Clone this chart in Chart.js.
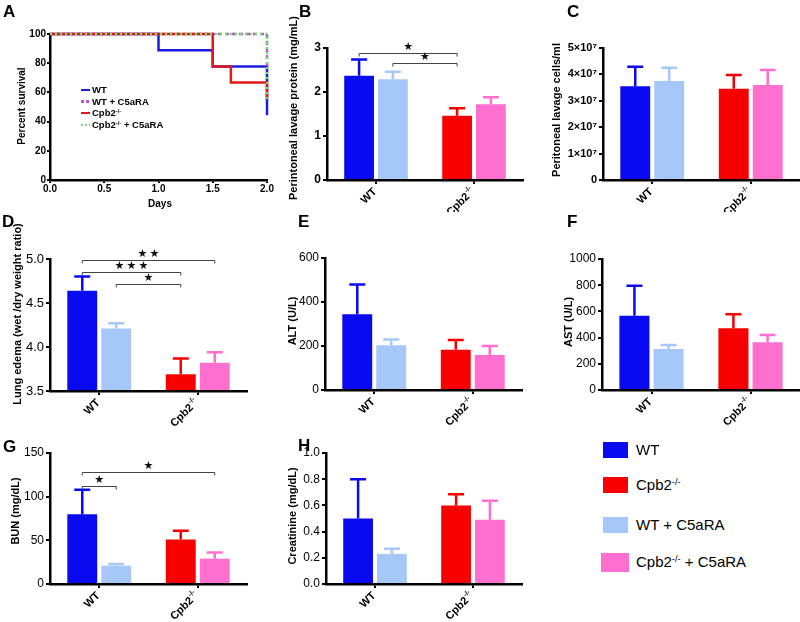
<!DOCTYPE html>
<html>
<head>
<meta charset="utf-8">
<script src="https://cdn.jsdelivr.net/npm/chart.js@4.4.0/dist/chart.umd.min.js"></script>
<style>
  body { margin: 0; width: 800px; height: 622px; background: #fff; position: relative; overflow: hidden;
         font-family: 'Liberation Sans', Arial, sans-serif; color: #000; }
  canvas { position: absolute; }
  .letter { position: absolute; font-weight: bold; font-size: 17px; line-height: 1; }
  .abs { position: absolute; white-space: nowrap; }
  sup { font-size: 62%; line-height: 0; vertical-align: 0.55em; }
</style>
</head>
<body>
<script>
// categories and series
const groups = ['WT', 'Cpb2-/-'];
const seriesNames = ['WT', 'Cpb2-/-', 'WT + C5aRA', 'Cpb2-/- + C5aRA'];

// panel A: survival (days / percent)
const daysWT = [0, 1, 1.5, 2];
const survWT = [100, 88.9, 77.8, 44.4];
const daysWTC5 = [0, 2];
const survWTC5 = [100, 77.8];
const daysKO = [0, 1.5, 1.667, 2];
const survKO = [100, 77.8, 66.7, 55.6];
const daysKOC5 = [0, 2];
const survKOC5 = [100, 55.6];
const dayTicks = [0, 0.5, 1, 1.5, 2];

// bar panels: [WT, Cpb2-/-] without C5aRA and with C5aRA, mean and SEM
const proteinMean = [2.37, 1.46], proteinSem = [0.37, 0.17];
const proteinC5Mean = [2.29, 1.72], proteinC5Sem = [0.17, 0.16];

const cellsMean = [3.55e7, 3.46e7], cellsSem = [0.74e7, 0.52e7];
const cellsC5Mean = [3.75e7, 3.6e7], cellsC5Sem = [0.5e7, 0.57e7];

const edemaMean = [4.64, 3.69], edemaSem = [0.16, 0.18];
const edemaC5Mean = [4.21, 3.82], edemaC5Sem = [0.06, 0.12];

const altMean = [344, 183], altSem = [136, 44];
const altC5Mean = [203, 159], altC5Sem = [27, 41];

const astMean = [567, 471], astSem = [229, 107];
const astC5Mean = [313, 364], astC5Sem = [30, 56];

const bunMean = [80, 51], bunSem = [28, 10];
const bunC5Mean = [21, 29], bunC5Sem = [2, 7];

const creatMean = [0.50, 0.60], creatSem = [0.30, 0.085];
const creatC5Mean = [0.23, 0.49], creatC5Sem = [0.04, 0.145];

const FONT = "'Liberation Sans', Arial, sans-serif";
const BLUE = '#0a0af0', RED = '#f70000', LIGHTBLUE = '#a6c8f8', PINK = '#ff6fcf';
const legendColors = [BLUE, RED, LIGHTBLUE, PINK];

Chart.defaults.font.family = FONT;
Chart.defaults.color = '#000';

function supHtml(s) { return s.replace('-/-', '<sup>-/-</sup>'); }

function makeCanvas(box) {
    const c = document.createElement('canvas');
    c.width = box[2];
    c.height = box[3];
    c.style.left = box[0] + 'px';
    c.style.top = box[1] + 'px';
    document.body.appendChild(c);
    return c;
}

function addDiv(cls, left, top, html, style) {
    const d = document.createElement('div');
    d.className = cls;
    d.style.left = left + 'px';
    d.style.top = top + 'px';
    if (style) d.style.cssText += style;
    d.innerHTML = html;
    document.body.appendChild(d);
    return d;
}

// chart area placed at exact page coords inside the canvas box
function layoutFor(box, area) {
    return {
        padding: { left: 0, top: area[1] - box[1], right: box[0] + box[2] - area[2], bottom: 0 },
        yWidth: area[0] - box[0],
        xHeight: box[1] + box[3] - area[3]
    };
}

function tickGrid(len) {
    return { drawOnChartArea: false, drawTicks: true, tickLength: len, lineWidth: 2, color: '#000' };
}
const axisBorder = { display: true, color: '#000', width: 2.5 };

function drawYTitle(chart, p) {
    const ctx = chart.ctx;
    ctx.save();
    ctx.translate(p.titleAt[0] - p.box[0], p.titleAt[1] - p.box[1]);
    ctx.rotate(-Math.PI / 2);
    ctx.font = 'bold ' + (p.titleSize || 11) + 'px ' + FONT;
    ctx.textAlign = 'center';
    ctx.textBaseline = 'middle';
    ctx.fillStyle = '#000';
    ctx.fillText(p.title, 0, 0);
    ctx.restore();
}

function drawGroupLabels(chart) {
    const ctx = chart.ctx, xs = chart.scales.x;
    groups.forEach((g, i) => {
        const k = g.indexOf('-/-');
        const main = k >= 0 ? g.slice(0, k) : g;
        const sup = k >= 0 ? g.slice(k) : '';
        const x = xs.getPixelForValue(i);
        ctx.save();
        ctx.translate(x - 1, xs.top + 10);
        ctx.rotate(-Math.PI / 4);
        ctx.textAlign = 'right';
        ctx.textBaseline = 'middle';
        ctx.fillStyle = '#000';
        let end = 0;
        if (sup) {
            ctx.font = 'bold 7px ' + FONT;
            ctx.fillText(sup, 0, -4);
            end = ctx.measureText(sup).width + 0.5;
        }
        ctx.font = 'bold 11px ' + FONT;
        ctx.fillText(main, -end, 0);
        ctx.restore();
    });
}

// bar index: 0 WT, 1 WT + C5aRA, 2 Cpb2-/-, 3 Cpb2-/- + C5aRA
function barX(chart, k) {
    return chart.getDatasetMeta(k % 2).data[Math.floor(k / 2)].x;
}

function barPlugin(p) {
    return {
        id: 'panel' + p.letter,
        afterDatasetsDraw(chart) {
            const ctx = chart.ctx, ys = chart.scales.y;
            // upper error bars
            chart.data.datasets.forEach((ds, di) => {
                chart.getDatasetMeta(di).data.forEach((bar, i) => {
                    const top = ys.getPixelForValue(ds.data[i] + ds.sem[i]);
                    ctx.save();
                    ctx.strokeStyle = ds.backgroundColor[i];
                    ctx.lineWidth = 2.5;
                    ctx.beginPath();
                    ctx.moveTo(bar.x, bar.y);
                    ctx.lineTo(bar.x, top);
                    ctx.moveTo(bar.x - 8, top);
                    ctx.lineTo(bar.x + 8, top);
                    ctx.stroke();
                    ctx.restore();
                });
            });
            // significance brackets
            (p.brackets || []).forEach(b => {
                const xa = barX(chart, b.from), xb = barX(chart, b.to);
                const y = Math.round(ys.getPixelForValue(b.at)) + 0.5;
                ctx.save();
                ctx.strokeStyle = '#444';
                ctx.lineWidth = 1;
                ctx.beginPath();
                ctx.moveTo(xa, y + 3);
                ctx.lineTo(xa, y);
                ctx.lineTo(xb, y);
                ctx.lineTo(xb, y + 3);
                ctx.stroke();
                ctx.fillStyle = '#111';
                ctx.font = '11px "DejaVu Sans"';
                ctx.textAlign = 'center';
                ctx.textBaseline = 'middle';
                const mid = (xa + xb) / 2;
                for (let s = 0; s < b.stars; s++) {
                    ctx.fillText('\u2605', mid + (s - (b.stars - 1) / 2) * 12, y - 6);
                }
                ctx.restore();
            });
        },
        afterDraw(chart) {
            drawYTitle(chart, p);
            drawGroupLabels(chart);
        }
    };
}

function barPanel(p) {
    const L = layoutFor(p.box, p.area);
    const dsOpts = { categoryPercentage: 0.69, barPercentage: 0.88, borderWidth: 0, base: p.min };
    new Chart(makeCanvas(p.box), {
        type: 'bar',
        data: {
            labels: groups,
            datasets: [
                Object.assign({ label: 'untreated', data: p.mean, sem: p.sem, backgroundColor: [BLUE, RED] }, dsOpts),
                Object.assign({ label: 'C5aRA', data: p.c5Mean, sem: p.c5Sem, backgroundColor: [LIGHTBLUE, PINK] }, dsOpts)
            ]
        },
        options: {
            responsive: false,
            animation: false,
            devicePixelRatio: 1,
            layout: { padding: L.padding },
            plugins: { legend: { display: false }, tooltip: { enabled: false } },
            scales: {
                x: {
                    offset: true,
                    grid: Object.assign(tickGrid(4), { offset: false }),
                    border: axisBorder,
                    ticks: { display: false },
                    afterFit: s => { s.height = L.xHeight; }
                },
                y: {
                    min: p.min, max: p.max,
                    grid: tickGrid(4),
                    border: axisBorder,
                    ticks: {
                        stepSize: p.step, padding: 2, color: '#000',
                        font: { size: p.size, weight: p.bold ? 'bold' : 'normal' },
                        callback: p.fmt
                    },
                    afterFit: s => { s.width = L.yWidth; }
                }
            }
        },
        plugins: [barPlugin(p)]
    });
}

// ---------- panel A ----------
(function () {
    const box = [0, 0, 280, 212], area = [50, 34, 267, 180];
    const L = layoutFor(box, area);
    const pts = (xs, ys) => xs.map((d, i) => ({ x: d, y: ys[i] }));
    const line = { pointRadius: 0, borderWidth: 2.5, stepped: true, fill: false, clip: 5 };
    const p = { box, title: 'Percent survival', titleAt: [22, 106], titleSize: 10 };
    new Chart(makeCanvas(box), {
        type: 'line',
        data: {
            datasets: [
                Object.assign({ label: seriesNames[3], data: pts(daysKOC5, survKOC5), borderColor: '#6ce86c', borderDash: [2, 3] }, line),
                Object.assign({ label: seriesNames[1], data: pts(daysKO, survKO), borderColor: '#e0181c' }, line),
                Object.assign({ label: seriesNames[2], data: pts(daysWTC5, survWTC5), borderColor: '#c054d6', borderDash: [4, 3] }, line),
                Object.assign({ label: seriesNames[0], data: pts(daysWT, survWT), borderColor: '#1c1ce0' }, line)
            ]
        },
        options: {
            responsive: false,
            animation: false,
            devicePixelRatio: 1,
            layout: { padding: L.padding },
            plugins: { legend: { display: false }, tooltip: { enabled: false } },
            scales: {
                x: {
                    type: 'linear', min: 0, max: 2,
                    afterBuildTicks: s => { s.ticks = dayTicks.map(v => ({ value: v })); },
                    grid: tickGrid(3),
                    border: axisBorder,
                    ticks: { autoSkip: false, maxRotation: 0, padding: 0, font: { size: 10, weight: 'bold' },
                             callback: v => Number(v).toFixed(1) },
                    afterFit: s => { s.height = L.xHeight; }
                },
                y: {
                    min: 0, max: 100,
                    grid: tickGrid(3),
                    border: axisBorder,
                    ticks: { stepSize: 20, padding: 1, font: { size: 10, weight: 'bold' } },
                    afterFit: s => { s.width = L.yWidth; }
                }
            }
        },
        plugins: [{
            id: 'panelA',
            afterDraw(chart) {
                drawYTitle(chart, p);
                const ctx = chart.ctx;
                ctx.save();
                ctx.font = 'bold 10px ' + FONT;
                ctx.textAlign = 'center';
                ctx.textBaseline = 'middle';
                ctx.fillStyle = '#000';
                ctx.fillText('Days', 160, 204);
                ctx.restore();
            }
        }]
    });

    // inset legend
    const samples = [
        ['#1c1ce0', 'solid'], ['#c054d6', 'dash'], ['#e0181c', 'solid'], ['#6ce86c', 'dot']
    ];
    const order = [0, 2, 1, 3];
    const rows = [90, 101.5, 113, 125];
    order.forEach((k, r) => {
        const [c, kind] = samples[r];
        let bg = c;
        if (kind === 'dash') bg = 'repeating-linear-gradient(90deg,' + c + ' 0 3px, transparent 3px 5px)';
        if (kind === 'dot') bg = 'repeating-linear-gradient(90deg,' + c + ' 0 2px, transparent 2px 4px)';
        addDiv('abs', 81, rows[r] - 1.25, '', 'width:9px;height:2.5px;background:' + bg);
        addDiv('abs', 92, rows[r] - 6, supHtml(seriesNames[k]), 'font-weight:bold;font-size:9.5px;line-height:12px');
    });
})();

// ---------- bar panels ----------
const intFmt = v => String(v);
const oneDec = v => Number(v).toFixed(1);

barPanel({ letter: 'B', box: [270, 0, 265, 212], area: [327, 48, 523, 180], min: 0, max: 3, step: 1,
    bold: true, size: 12, fmt: intFmt, title: 'Perintoneal lavage protein (mg/mL)', titleAt: [294, 108],
    mean: proteinMean, sem: proteinSem, c5Mean: proteinC5Mean, c5Sem: proteinC5Sem,
    brackets: [{ from: 0, to: 2, at: 2.88, stars: 1 }, { from: 1, to: 2, at: 2.67, stars: 1 }] });

barPanel({ letter: 'C', box: [530, 0, 270, 212], area: [603, 48, 800, 180], min: 0, max: 5e7, step: 1e7,
    bold: true, size: 11, fmt: v => (v === 0 ? '0' : Math.round(v / 1e7) + '\u00d710\u2077'),
    title: 'Peritoneal lavage cells/ml', titleAt: [557, 110],
    mean: cellsMean, sem: cellsSem, c5Mean: cellsC5Mean, c5Sem: cellsC5Sem });

barPanel({ letter: 'D', box: [0, 205, 265, 222], area: [50, 259, 247, 391], min: 3.5, max: 5, step: 0.5,
    bold: false, size: 13, fmt: oneDec, title: 'Lung edema (wet /dry weight ratio)', titleAt: [18, 314],
    mean: edemaMean, sem: edemaSem, c5Mean: edemaC5Mean, c5Sem: edemaC5Sem,
    brackets: [{ from: 0, to: 3, at: 4.99, stars: 2 }, { from: 0, to: 2, at: 4.85, stars: 3 },
               { from: 1, to: 2, at: 4.72, stars: 1 }] });

barPanel({ letter: 'E', box: [270, 205, 265, 222], area: [325, 258, 522, 390], min: 0, max: 600, step: 200,
    bold: false, size: 12, fmt: intFmt, title: 'ALT (U/L)', titleAt: [293, 321],
    mean: altMean, sem: altSem, c5Mean: altC5Mean, c5Sem: altC5Sem });

barPanel({ letter: 'F', box: [530, 205, 270, 222], area: [602, 259, 800, 390], min: 0, max: 1000, step: 200,
    bold: false, size: 12, fmt: intFmt, title: 'AST (U/L)', titleAt: [569, 322],
    mean: astMean, sem: astSem, c5Mean: astC5Mean, c5Sem: astC5Sem });

barPanel({ letter: 'G', box: [0, 425, 265, 197], area: [50, 453, 247, 584], min: 0, max: 150, step: 50,
    bold: false, size: 12, fmt: intFmt, title: 'BUN (mg/dL)', titleAt: [16, 511],
    mean: bunMean, sem: bunSem, c5Mean: bunC5Mean, c5Sem: bunC5Sem,
    brackets: [{ from: 0, to: 3, at: 128.3, stars: 1 }, { from: 0, to: 1, at: 112.6, stars: 1 }] });

barPanel({ letter: 'H', box: [270, 425, 265, 197], area: [326, 453, 522, 584], min: 0, max: 1, step: 0.2,
    bold: false, size: 12, fmt: oneDec, title: 'Creatinine (mg/dL)', titleAt: [293, 516],
    mean: creatMean, sem: creatSem, c5Mean: creatC5Mean, c5Sem: creatC5Sem });

// panel letters
[['A', 3, 3], ['B', 299, 3], ['C', 567, 3], ['D', 2, 213], ['E', 298, 213],
 ['F', 567, 213], ['G', 3, 438], ['H', 298, 437]].forEach(([t, x, y]) => addDiv('letter', x, y, t));

// group legend (bottom right)
const legRows = [450, 485, 525, 562];
seriesNames.forEach((name, i) => {
    const big = i === 3;
    const w = big ? 28 : 25, h = big ? 19 : 16;
    addDiv('abs', big ? 601 : 603, legRows[i] - h / 2, '', 'width:' + w + 'px;height:' + h + 'px;background:' + legendColors[i]);
    addDiv('abs', 636, legRows[i] - 9, supHtml(name), 'font-size:15px;line-height:18px');
});
</script>
</body>
</html>
